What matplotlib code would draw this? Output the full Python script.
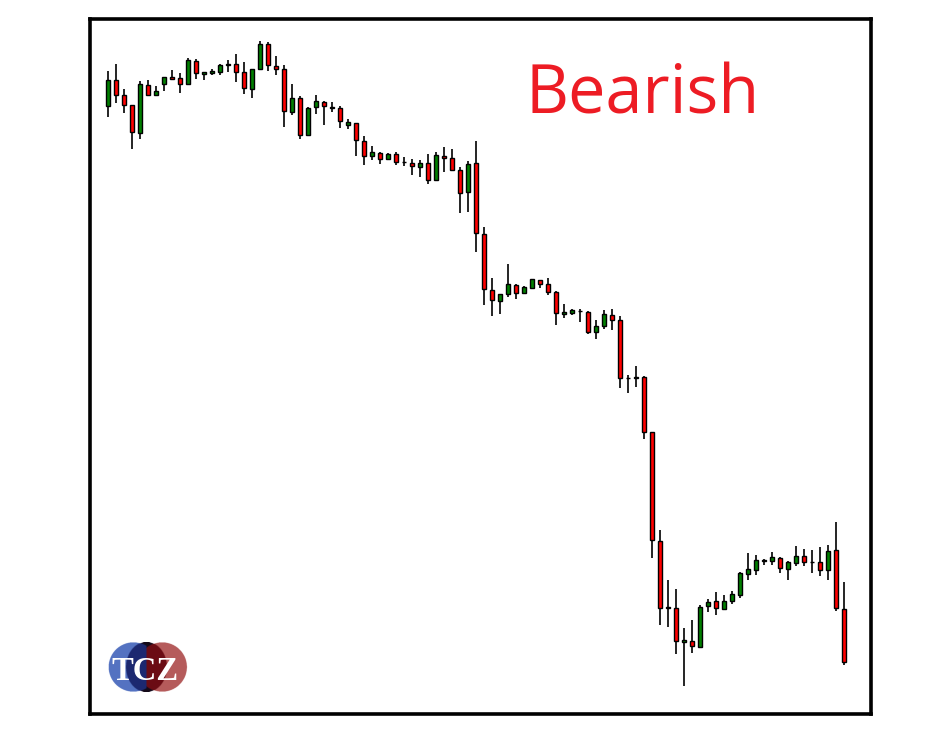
import numpy as np
import matplotlib
matplotlib.use("Agg")
import matplotlib.pyplot as plt

# OHLC values (one candle per session)
opens = [694, 720, 705, 695, 667, 715, 705, 716, 723, 722, 716, 739, 726, 727, 728, 735,
         736, 728, 711, 731, 756, 734, 731, 688, 702, 665, 693, 698, 693, 692, 675, 677,
         659, 644, 647, 641, 646, 638, 637, 633, 637, 620, 644, 642, 630, 608, 637, 566,
         510, 499, 506, 515, 507, 512, 520, 516, 508, 486, 487, 489, 488, 468, 474, 485,
         480, 422, 422.6, 423, 368, 259, 192.6, 192, 158, 159, 153, 194, 199, 191, 199, 205,
         226, 230, 239, 239, 242, 231, 237, 244, 238, 238, 230, 250, 191]
highs = [729, 736, 711, 695, 719, 720, 714, 723, 730, 727, 742, 741, 728, 731, 736, 740,
         746, 738, 731, 759, 758, 744, 735, 716, 704, 693, 705, 699, 698, 694, 681, 677,
         664, 654, 648, 647, 648, 643, 641, 640, 646, 648, 653, 651, 633, 639, 659, 573,
         522, 506, 536, 516, 514, 521, 520, 522, 509, 496, 491, 491, 489, 480, 490, 491,
         484, 425, 434, 424, 368, 270, 220, 211, 172, 180, 195, 201, 208, 205, 209, 228,
         247, 245, 241, 248, 243, 239, 254, 251, 250, 253, 255, 278, 218]
lows = [683, 697, 687, 651, 661, 705, 705, 709, 720, 707, 715, 721, 720, 725, 725, 728,
        718, 706, 702, 731, 729, 725, 673, 685, 661, 665, 686, 675, 688, 672, 671, 644,
        635, 640, 636, 640, 635, 634, 625, 623, 616, 620, 628, 630, 587, 588, 548, 495,
        484, 486, 503, 501, 507, 512, 512, 505, 475, 482, 485, 478, 466, 461, 471, 470,
        412, 407, 413, 361, 242, 175, 173, 146, 114, 147, 153, 188, 185, 191, 196, 202,
        220, 225, 235, 235, 227, 220, 234, 234, 227, 224, 220, 189, 135]
closes = [720, 705, 695, 668, 716, 705, 709, 723, 721, 716, 740, 727, 728, 729, 735, 736,
          728, 712, 731, 756, 735, 731, 689, 702, 665, 692, 699, 694, 692, 679, 678, 660,
          644, 648, 641, 646, 638, 638, 634, 637, 620, 645, 642, 630, 607, 636, 567, 511,
          500, 506, 516, 507, 513, 521, 516, 508, 487, 488, 490, 489, 468, 474, 486, 480,
          422, 422, 422.6, 368, 260, 192, 192.6, 159, 160, 154, 193, 198, 192, 199, 206, 227,
          231, 240, 240, 243, 232, 238, 244, 238, 238, 230, 249, 192, 138]

title_text = "Bearish"
logo_text = "TCZ"

fig = plt.figure(figsize=(9.49, 7.41), dpi=100)
ax = fig.add_axes([0.0945, 0.0367, 0.8236, 0.938])

x = np.arange(len(opens))
o = np.array(opens, dtype=float)
c = np.array(closes, dtype=float)
up = c > o
body_col = np.where(up, "#008000", "#ff0000")

# wicks first, bodies on top
ax.vlines(x, lows, highs, color="black", linewidth=1.2, zorder=2)
bottoms = np.minimum(o, c)
heights = np.maximum(np.abs(c - o), 0.6)
ax.bar(x, heights, bottom=bottoms, width=0.5, color=body_col,
       edgecolor="black", linewidth=1.0, zorder=3)

ax.set_xlim(-2.325, 95.375)
ax.set_ylim(86.5, 781.6)
ax.set_xticks([])
ax.set_yticks([])
for s in ax.spines.values():
    s.set_linewidth(2.6)
    s.set_color("black")

fig.text(526 / 949, 1 - 113.3 / 741, title_text, color="#ed1c24",
         fontsize=48, family="Open Sans", ha="left", va="baseline")

# logo: overlapping circles drawn as a small image
lx0, lx1, ly0, ly1 = 108, 188, 642, 692
gx, gy = np.meshgrid(np.linspace(lx0, lx1, 320), np.linspace(ly0, ly1, 200))
img = np.ones((200, 320, 4))
img[..., 3] = 0
def disk(cx, cy=667, r=25):
    return (gx - cx) ** 2 + (gy - cy) ** 2 <= r ** 2
blue = disk(133.3)
red = disk(162.3)
mid = ((gx - 146.5) / 20.5) ** 2 + ((gy - 667) / 25.3) ** 2 <= 1
navy = mid & blue & (gx < 146.5)
maroon = mid & red & (gx >= 146.5)
dark = mid & ~navy & ~maroon
for mask, rgb in [(blue, (0.33, 0.45, 0.76)), (red, (0.71, 0.36, 0.36)),
                  (navy, (0.11, 0.16, 0.44)), (maroon, (0.42, 0.05, 0.08)),
                  (dark, (0.08, 0.04, 0.10))]:
    img[mask, :3] = rgb
    img[mask, 3] = 1
lax = fig.add_axes([lx0 / 949, 1 - ly1 / 741, (lx1 - lx0) / 949, (ly1 - ly0) / 741])
lax.imshow(img, extent=(lx0, lx1, ly1, ly0), interpolation="bilinear")
lax.axis("off")
fig.text(145.5 / 949, 1 - 680.3 / 741, logo_text, color="white", fontsize=23.5,
         family="Liberation Serif", weight="bold", ha="center", va="baseline")

fig.savefig("out.png", dpi=100)
